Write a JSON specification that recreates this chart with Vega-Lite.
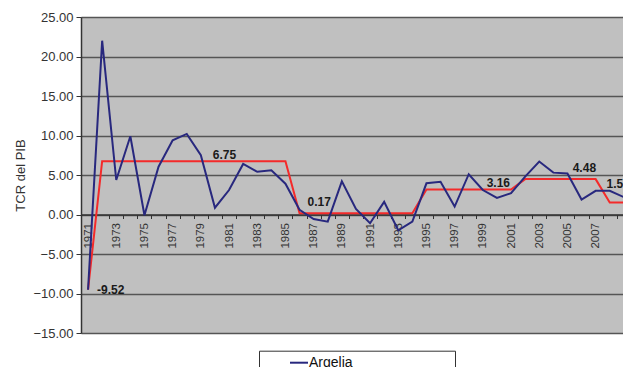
{
  "$schema": "https://vega.github.io/schema/vega-lite/v6.json",
  "width": 542,
  "height": 316,
  "autosize": {"type": "none"},
  "padding": {"left": 81, "top": 17, "right": 0, "bottom": 34},
  "background": "white",
  "config": {
    "font": "Liberation Sans",
    "view": {"fill": "#c0c0c0", "stroke": "#b4b4b4", "strokeWidth": 1},
    "axisY": {
      "titleFontSize": 13,
      "titleFontWeight": "normal",
      "titleColor": "#333333",
      "titlePadding": 5,
      "values": [-15, -10, -5, 0, 5, 10, 15, 20, 25],
      "format": ".2f",
      "labelFontSize": 13,
      "labelColor": "#333333",
      "labelPadding": 3,
      "labelOverlap": false,
      "tickSize": 5,
      "tickColor": "#333333",
      "domainColor": "#333333",
      "domainWidth": 1.5,
      "grid": true,
      "gridWidth": 1.5,
      "gridColor": "#555555"
    }
  },
  "datasets": {
    "tcr": [
      {"year": 1971, "value": -9.52, "media": -9.52, "series": "Argelia"},
      {"year": 1972, "value": 22.0, "media": 6.75, "series": "Argelia"},
      {"year": 1973, "value": 4.37, "media": 6.75, "series": "Argelia"},
      {"year": 1974, "value": 9.9, "media": 6.75, "series": "Argelia"},
      {"year": 1975, "value": -0.1, "media": 6.75, "series": "Argelia"},
      {"year": 1976, "value": 6.05, "media": 6.75, "series": "Argelia"},
      {"year": 1977, "value": 9.4, "media": 6.75, "series": "Argelia"},
      {"year": 1978, "value": 10.2, "media": 6.75, "series": "Argelia"},
      {"year": 1979, "value": 7.5, "media": 6.75, "series": "Argelia"},
      {"year": 1980, "value": 0.86, "media": 6.75, "series": "Argelia"},
      {"year": 1981, "value": 3.1, "media": 6.75, "series": "Argelia"},
      {"year": 1982, "value": 6.4, "media": 6.75, "series": "Argelia"},
      {"year": 1983, "value": 5.4, "media": 6.75, "series": "Argelia"},
      {"year": 1984, "value": 5.6, "media": 6.75, "series": "Argelia"},
      {"year": 1985, "value": 3.9, "media": 6.75, "series": "Argelia"},
      {"year": 1986, "value": 0.6, "media": 0.17, "series": "Argelia"},
      {"year": 1987, "value": -0.57, "media": 0.17, "series": "Argelia"},
      {"year": 1988, "value": -0.9, "media": 0.17, "series": "Argelia"},
      {"year": 1989, "value": 4.2, "media": 0.17, "series": "Argelia"},
      {"year": 1990, "value": 0.7, "media": 0.17, "series": "Argelia"},
      {"year": 1991, "value": -1.1, "media": 0.17, "series": "Argelia"},
      {"year": 1992, "value": 1.6, "media": 0.17, "series": "Argelia"},
      {"year": 1993, "value": -2.0, "media": 0.17, "series": "Argelia"},
      {"year": 1994, "value": -0.9, "media": 0.17, "series": "Argelia"},
      {"year": 1995, "value": 3.95, "media": 3.16, "series": "Argelia"},
      {"year": 1996, "value": 4.15, "media": 3.16, "series": "Argelia"},
      {"year": 1997, "value": 1.0, "media": 3.16, "series": "Argelia"},
      {"year": 1998, "value": 5.1, "media": 3.16, "series": "Argelia"},
      {"year": 1999, "value": 3.1, "media": 3.16, "series": "Argelia"},
      {"year": 2000, "value": 2.1, "media": 3.16, "series": "Argelia"},
      {"year": 2001, "value": 2.7, "media": 3.16, "series": "Argelia"},
      {"year": 2002, "value": 4.8, "media": 4.48, "series": "Argelia"},
      {"year": 2003, "value": 6.7, "media": 4.48, "series": "Argelia"},
      {"year": 2004, "value": 5.3, "media": 4.48, "series": "Argelia"},
      {"year": 2005, "value": 5.2, "media": 4.48, "series": "Argelia"},
      {"year": 2006, "value": 1.9, "media": 4.48, "series": "Argelia"},
      {"year": 2007, "value": 3.0, "media": 4.48, "series": "Argelia"},
      {"year": 2008, "value": 3.0, "media": 1.53, "series": "Argelia"},
      {"year": 2009, "value": 2.2, "media": 1.53, "series": "Argelia"}
    ],
    "etiquetas": [
      {"year": 1971, "value": -9.52, "text": "-9.52", "grupo": "a"},
      {"year": 1980.68, "value": 6.75, "text": "6.75", "grupo": "b"},
      {"year": 2000.1, "value": 3.16, "text": "3.16", "grupo": "b"},
      {"year": 1987.4, "value": 0.17, "text": "0.17", "grupo": "c"},
      {"year": 2006.2, "value": 4.48, "text": "4.48", "grupo": "c"},
      {"year": 2008.6, "value": 1.53, "text": "1.53", "grupo": "d"}
    ]
  },
  "encoding": {
    "x": {
      "field": "year",
      "type": "quantitative",
      "scale": {"domain": [1970.5, 2008.94], "nice": false, "zero": false},
      "axis": {
        "title": null,
        "orient": "bottom",
        "offset": -118.5,
        "values": [1970, 1971, 1972, 1973, 1974, 1975, 1976, 1977, 1978, 1979, 1980, 1981, 1982, 1983, 1984, 1985, 1986, 1987, 1988, 1989, 1990, 1991, 1992, 1993, 1994, 1995, 1996, 1997, 1998, 1999, 2000, 2001, 2002, 2003, 2004, 2005, 2006, 2007, 2008],
        "format": "d",
        "labelExpr": "datum.value % 2 == 1 ? datum.label : ''",
        "tickOffset": 7.05,
        "labelOffset": -7.05,
        "labelAngle": -90,
        "labelFontSize": 11.5,
        "labelColor": "#333333",
        "labelPadding": 4,
        "labelOverlap": false,
        "labelBound": false,
        "labelFlush": false,
        "tickSize": 4,
        "tickColor": "#333333",
        "domainColor": "#333333",
        "domainWidth": 1.5,
        "grid": false
      }
    },
    "y": {
      "field": "value",
      "type": "quantitative",
      "title": "TCR del PIB",
      "scale": {"domain": [-15, 25], "nice": false, "zero": false}
    }
  },
  "layer": [
    {
      "data": {"name": "tcr"},
      "mark": {"type": "line", "color": "#f42a2a", "strokeWidth": 2, "clip": true},
      "encoding": {
        "y": {"field": "media", "type": "quantitative", "title": "TCR del PIB", "scale": {"domain": [-15, 25], "nice": false, "zero": false}}
      }
    },
    {
      "data": {"name": "tcr"},
      "mark": {"type": "line", "strokeWidth": 2, "clip": true},
      "encoding": {
        "color": {
          "field": "series",
          "type": "nominal",
          "scale": {"domain": ["Argelia"], "range": ["#28287e"]},
          "legend": {
            "title": null,
            "orient": "none",
            "legendX": 178,
            "legendY": 333.7,
            "fillColor": "white",
            "strokeColor": "#333333",
            "padding": 2,
            "symbolType": "stroke",
            "symbolStrokeWidth": 2,
            "symbolSize": 324,
            "symbolOffset": 28,
            "labelOffset": 0,
            "labelFontSize": 14,
            "labelColor": "#111111",
            "labelLimit": 400,
            "labelExpr": "datum.label + '\u2800\u2800\u2800\u2800\u2800\u2800\u2800\u2800\u2800\u2800'"
          }
        }
      }
    },
    {
      "data": {"name": "etiquetas"},
      "transform": [{"filter": "datum.grupo == 'a'"}],
      "mark": {"type": "text", "align": "left", "baseline": "middle", "dx": 9, "fontSize": 12, "fontWeight": "bold", "color": "#1a1a1a", "clip": true},
      "encoding": {"text": {"field": "text"}}
    },
    {
      "data": {"name": "etiquetas"},
      "transform": [{"filter": "datum.grupo == 'b'"}],
      "mark": {"type": "text", "align": "center", "baseline": "middle", "dy": -6.5, "fontSize": 12, "fontWeight": "bold", "color": "#1a1a1a", "clip": true},
      "encoding": {"text": {"field": "text"}}
    },
    {
      "data": {"name": "etiquetas"},
      "transform": [{"filter": "datum.grupo == 'c'"}],
      "mark": {"type": "text", "align": "center", "baseline": "middle", "dy": -11, "fontSize": 12, "fontWeight": "bold", "color": "#1a1a1a", "clip": true},
      "encoding": {"text": {"field": "text"}}
    },
    {
      "data": {"name": "etiquetas"},
      "transform": [{"filter": "datum.grupo == 'd'"}],
      "mark": {"type": "text", "align": "center", "baseline": "middle", "dy": -18.5, "fontSize": 12, "fontWeight": "bold", "color": "#1a1a1a", "clip": true},
      "encoding": {"text": {"field": "text"}}
    }
  ]
}
